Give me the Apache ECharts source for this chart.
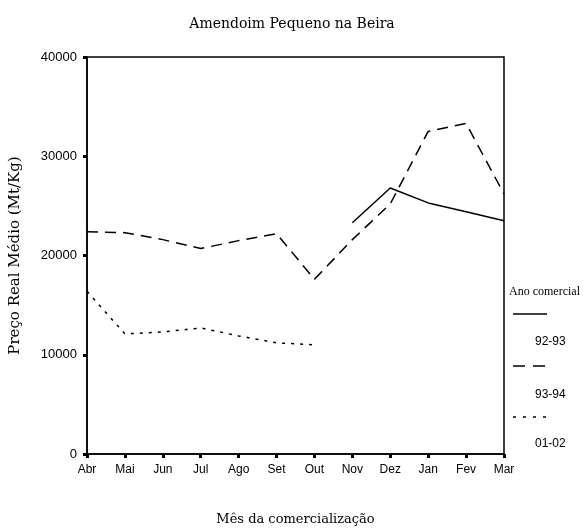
<!DOCTYPE html>
<html>
<head>
<meta charset="utf-8">
<script src="https://cdn.jsdelivr.net/npm/echarts@6/dist/echarts.min.js"></script>
<style>
  html, body { margin: 0; padding: 0; background: #fff; }
  #chart { width: 584px; height: 531px; }
</style>
</head>
<body>
<div id="chart"></div>
<script>
// meses da comercializacao
var months = ['Abr', 'Mai', 'Jun', 'Jul', 'Ago', 'Set', 'Out', 'Nov', 'Dez', 'Jan', 'Fev', 'Mar'];
// preco real medio (Mt/Kg) por ano comercial
var ano9293 = [null, null, null, null, null, null, null, 23300, 26800, 25300, 24400, 23500];
var ano9394 = [22400, 22300, 21600, 20700, 21500, 22200, 17600, 21600, 25200, 32500, 33300, 26200];
var ano0102 = [16400, 12100, 12300, 12700, 11900, 11200, 11000, null, null, null, null, null];
var yTicks = [0, 10000, 20000, 30000, 40000];

var chart = echarts.init(document.getElementById('chart'));

var serif = '"DejaVu Serif", serif';
var sans = '"Liberation Sans", Arial, sans-serif';

chart.setOption({
    animation: false,
    title: {
        text: 'Amendoim Pequeno na Beira',
        left: 'center',
        top: 12,
        textStyle: { fontFamily: serif, fontSize: 14, fontWeight: 'normal', color: '#000' }
    },
    grid: {
        left: 86, right: 80, top: 57, bottom: 76,
        show: true, borderColor: '#000', borderWidth: 1.5, backgroundColor: '#fff'
    },
    xAxis: {
        type: 'category',
        data: months,
        boundaryGap: false,
        name: 'Mês da comercialização',
        nameLocation: 'middle',
        nameGap: 59,
        nameTextStyle: { fontFamily: serif, fontSize: 13, color: '#000' },
        axisLine: { lineStyle: { color: '#000', width: 1.5 } },
        axisTick: { alignWithLabel: true, length: 4, lineStyle: { color: '#000', width: 3 } },
        axisLabel: { fontFamily: sans, fontSize: 12, color: '#000', margin: 10, interval: 0 },
        splitLine: { show: false }
    },
    yAxis: {
        type: 'value',
        min: yTicks[0],
        max: yTicks[yTicks.length - 1],
        interval: yTicks[1] - yTicks[0],
        name: 'Preço Real Médio (Mt/Kg)',
        nameLocation: 'middle',
        nameGap: 64,
        nameTextStyle: { fontFamily: serif, fontSize: 15, color: '#000' },
        axisLine: { show: true, lineStyle: { color: '#000', width: 1.5 } },
        axisTick: { show: true, length: 4, lineStyle: { color: '#000', width: 3 } },
        axisLabel: {
            fontFamily: sans, fontSize: 13, color: '#000', margin: 10,
            formatter: function (v) { return String(v); }
        },
        splitLine: { show: false }
    },
    series: [
        {
            name: '92-93', type: 'line', data: ano9293, symbol: 'none',
            lineStyle: { color: '#000', width: 1.5, type: 'solid' }
        },
        {
            name: '93-94', type: 'line', data: ano9394, symbol: 'none',
            lineStyle: { color: '#000', width: 1.5, type: [11, 7] }
        },
        {
            name: '01-02', type: 'line', data: ano0102, symbol: 'none',
            lineStyle: { color: '#000', width: 1.5, type: [3, 6] }
        }
    ],
    // legenda ao lado direito
    graphic: [
        { type: 'text', left: 509, top: 286, style: { text: 'Ano comercial', font: '12px "Liberation Serif", serif', fill: '#000' } },
        { type: 'line', shape: { x1: 513, y1: 314, x2: 547, y2: 314 }, style: { stroke: '#000', lineWidth: 1.5 } },
        { type: 'text', left: 535, top: 336, style: { text: '92-93', font: '12px "Liberation Sans", Arial, sans-serif', fill: '#000' } },
        { type: 'line', shape: { x1: 513, y1: 366, x2: 547, y2: 366 }, style: { stroke: '#000', lineWidth: 1.5, lineDash: [12, 8] } },
        { type: 'text', left: 535, top: 389, style: { text: '93-94', font: '12px "Liberation Sans", Arial, sans-serif', fill: '#000' } },
        { type: 'line', shape: { x1: 513, y1: 417, x2: 547, y2: 417 }, style: { stroke: '#000', lineWidth: 1.5, lineDash: [3, 7] } },
        { type: 'text', left: 535, top: 438, style: { text: '01-02', font: '12px "Liberation Sans", Arial, sans-serif', fill: '#000' } }
    ]
});
</script>
</body>
</html>
